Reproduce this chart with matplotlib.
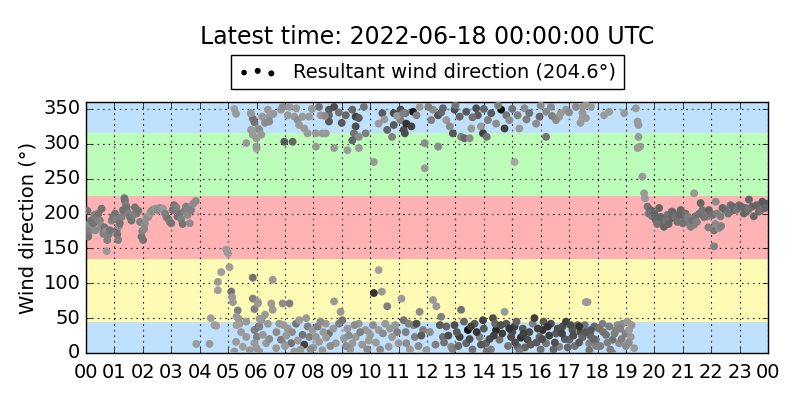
import matplotlib
matplotlib.use("Agg")
import matplotlib.pyplot as plt
import numpy as np

# (hour, direction deg, gray shade)
night_early = [
(0.02,180,.5),(0.05,204,.45),(0.06,172,.45),(0.08,167,.45),(0.1,185,.55),(0.14,176,.5),(0.18,190,.45),
(0.22,182,.55),(0.26,186,.45),(0.3,198,.5),(0.33,176,.55),(0.37,195,.45),(0.4,192,.5),(0.44,200,.45),
(0.49,190,.5),(0.52,183,.55),(0.55,207,.45),(0.58,178,.55),(0.61,171,.5),(0.65,180,.45),(0.7,175,.55),
(0.73,146,.6),(0.75,162,.5),(0.8,170,.5),(0.84,176,.45),(0.9,190,.5),(0.96,195,.45),(1.02,200,.45),
(1.05,192,.5),(1.08,176,.45),(1.1,170,.45),(1.13,162,.5),(1.16,182,.55),(1.19,186,.45),(1.25,195,.5),
(1.3,205,.45),(1.35,222,.45),(1.37,218,.45),(1.4,212,.5),(1.43,209,.45),(1.46,202,.45),(1.49,200,.5),
(1.55,195,.45),(1.6,190,.45),(1.65,198,.5),(1.72,209,.45),(1.78,200,.5),(1.84,204,.45),(1.9,188,.5),
(1.95,167,.45),(1.98,175,.5),(2.01,162,.45),(2.05,178,.55),(2.07,186,.55),(2.12,195,.6),(2.19,195,.55),
(2.25,200,.6),(2.3,204,.55),(2.38,206,.55),(2.45,207,.6),(2.52,205,.55),(2.6,208,.55),(2.71,207,.6),
(2.78,200,.5),(2.83,195,.5),(2.9,192,.45),(2.95,188,.5),(3.0,186,.45),(3.05,205,.45),(3.1,212,.45),
(3.18,209,.5),(3.22,196,.45),(3.3,200,.45),(3.35,192,.5),(3.4,185,.45),(3.47,204,.5),(3.52,210,.5),
(3.58,198,.55),(3.65,186,.55),(3.7,205,.5),(3.77,214,.55),(3.86,218,.55)]

morning = [
(3.88,13,.6),(4.35,13,.6),(4.39,50,.62),(4.52,40,.62),(4.58,39,.62),(4.64,102,.6),(4.64,90,.62),
(4.76,116,.62),(4.94,148,.6),(5.0,143,.6),(5.05,123,.62),(5.11,88,.45),(5.14,80,.6),(5.17,73,.6),
(5.22,2,.6),(5.28,16,.6),(5.34,61,.5),(5.3,52,.6),(5.37,49,.6),(5.4,42,.6),(5.3,40,.62),(5.22,350,.62),
(5.28,343,.6),(5.46,30,.6),(5.52,9,.62),(5.64,45,.6),(5.64,301,.6),(5.81,343,.55),(5.87,336,.45),
(5.93,331,.45),(5.81,320,.6),(5.87,313,.6),(5.87,108,.45),(5.87,78,.5),(5.93,63,.5),(5.93,33,.5),
(6.0,293,.65),(6.05,322,.6),(6.0,308,.6),(6.05,73,.6),(6.11,49,.6),(6.08,38,.3),(6.01,23,.5),
(6.0,7,.6),(5.64,23,.6),(5.76,4,.6),(5.93,14,.6),(6.1,38,.5)]

day_north = [
(6.1,320,.55),(6.17,313,.6),(5.8,344,.6),(6.2,339,.6),(6.45,339,.6),(6.45,332,.55),(6.4,349,.6),
(6.0,296,.6),(6.98,303,.35),(7.27,303,.4),(6.86,349,.6),(6.92,353,.55),(7.1,341,.6),(7.33,339,.6),
(7.45,334,.55),(7.5,327,.6),(7.68,322,.6),(7.8,315,.6),(7.62,339,.6),(7.85,339,.6),(7.16,353,.6),
(7.4,351,.6),(8.09,296,.6),(8.09,315,.6),(8.2,353,.45),(8.26,341,.6),(8.55,349,.35),(8.55,341,.4),
(8.55,332,.35),(8.73,353,.3),(8.73,294,.6),(8.32,315,.6),(8.44,315,.6),(9.2,291,.6),(9.49,325,.3),
(9.43,315,.45),(9.6,310,.55),(9.84,315,.5),(9.49,339,.25),(9.6,337,.35),(9.37,349,.4),(9.14,341,.4),
(9.78,353,.45),(9.6,294,.6),(9.37,305,.4),(10.13,274,.6),(10.3,329,.6),(10.6,320,.4),(10.43,344,.35),
(10.83,344,.3),(10.83,327,.35),(11.07,349,.3),(11.24,344,.45),(11.18,320,.3),(11.07,334,.5),
(10.77,310,.5),(10.5,335,.6),(10.95,340,.6),(8.9,345,.45),(9.0,330,.35),(8.4,340,.55),(7.95,350,.6),
(6.6,343,.6),(6.3,330,.55),(11.16,344,.5),(11.51,346,.1),(11.27,329,.2),(11.45,325,.25),(11.22,315,.3),
(11.63,341,.5),(11.74,353,.6),(11.92,301,.55),(11.92,265,.6)]

day_south = [
(6.05,71,.6),(6.17,47,.6),(6.22,26,.6),(6.4,42,.6),(6.52,71,.6),(6.57,105,.6),(6.57,62,.6),(6.8,42,.6),
(6.86,19,.5),(6.69,7,.6),(6.92,71,.55),(6.34,14,.6),(6.1,2,.6),(7.16,71,.5),(7.1,35,.6),(7.22,14,.45),
(7.39,42,.45),(7.5,47,.6),(7.62,26,.45),(7.68,12,.25),(7.8,38,.5),(7.86,23,.5),(7.97,33,.6),(7.33,2,.6),
(8.15,38,.5),(8.2,16,.6),(8.44,42,.6),(8.55,28,.45),(8.73,74,.6),(8.79,14,.6),(8.96,59,.6),(8.9,42,.5),
(8.32,4,.6),(8.09,23,.6),(9.02,47,.45),(9.2,35,.6),(9.08,21,.6),(9.37,14,.6),(9.49,23,.6),(9.72,12,.6),
(9.84,33,.6),(10.0,26,.6),(9.6,42,.6),(10.13,86,.2),(10.3,119,.62),(10.41,88,.6),(10.6,67,.5),
(10.3,33,.6),(10.53,42,.6),(10.77,23,.6),(10.88,40,.6),(11.18,47,.45),(11.35,42,.5),(11.53,40,.5),
(10.65,9,.6),(11.0,14,.6),(6.7,30,.55),(7.0,10,.6),(7.25,30,.55),(7.55,5,.6),(8.0,8,.6),(8.6,10,.55),
(9.3,5,.6),(9.9,5,.55),(10.2,15,.6),(10.45,28,.55),(11.1,78,.6),(11.27,14,.55),(11.57,23,.5),
(11.74,59,.55),(11.86,33,.5),(11.98,4,.6),(11.63,42,.3),(11.8,25,.35),(6.3,55,.6),(7.05,25,.6),
(7.9,5,.55),(8.35,30,.6),(9.15,10,.55),(9.65,30,.5),(10.1,40,.55),(10.95,30,.5),(11.4,5,.6),
(6.45,20,.55),(6.95,40,.6),(7.45,18,.6),(8.25,45,.55),(8.7,35,.6),(9.45,40,.55),(9.95,18,.6),
(10.35,5,.55),(10.7,35,.6),(11.25,30,.5),(11.7,10,.55),(8.45,22,.6),(7.75,50,.6),(9.25,25,.55)]

afternoon_north = [
(12.15,334,.5),(12.21,349,.55),(12.39,341,.3),(12.39,296,.55),(12.56,351,.4),(12.68,334,.6),
(12.8,325,.55),(12.97,349,.3),(12.91,315,.35),(13.2,310,.5),(13.32,308,.4),(13.5,308,.55),
(13.15,339,.4),(13.38,346,.35),(13.56,322,.6),(13.79,341,.35),(13.73,351,.3),(13.9,325,.6),
(13.97,315,.25),(14.1,310,.45),(14.14,334,.5),(14.26,344,.35),(14.43,329,.55),(14.61,349,.05),
(14.73,322,.25),(14.79,341,.45),(14.9,334,.55),(15.08,274,.65),(15.19,341,.5),(15.25,322,.6),
(15.43,351,.55),(15.6,344,.45),(15.84,329,.55),(15.96,339,.4),(16.19,310,.45),(16.19,346,.55),
(16.36,353,.55),(16.65,339,.6),(16.71,344,.6),(16.54,334,.55),(16.89,349,.6),(17.24,353,.55),
(17.47,344,.6),(17.59,337,.6),(17.77,353,.6),(12.05,353,.5),(12.5,345,.4),(13.0,355,.45),
(13.6,338,.45),(14.0,350,.4),(14.5,355,.5),(15.0,350,.45),(15.5,335,.5),(16.0,355,.55),
(16.4,340,.5),(17.0,345,.55),(17.4,330,.6),(17.47,353,.6),(17.59,356,.6),(17.47,337,.6),
(18.23,341,.6),(18.41,346,.6),(18.94,344,.6)]

afternoon_south = [
(12.21,76,.6),(12.33,67,.6),(12.5,52,.5),(12.68,38,.4),(12.56,23,.45),(12.85,9,.55),(12.97,40,.3),
(13.2,62,.45),(13.15,23,.25),(13.38,14,.4),(13.44,33,.05),(13.67,42,.35),(13.85,23,.5),(13.97,47,.25),
(14.08,14,.4),(14.32,50,.3),(14.43,33,.15),(14.55,19,.45),(14.73,59,.6),(14.79,42,.35),(14.96,23,.3),
(15.08,38,.25),(15.19,9,.4),(15.37,35,.35),(15.54,19,.3),(15.72,42,.5),(15.78,50,.25),(15.96,23,.4),
(16.07,33,.2),(16.19,14,.45),(16.36,42,.3),(16.54,28,.35),(16.65,9,.5),(16.77,38,.3),(16.89,45,.25),
(17.01,19,.4),(17.12,33,.35),(17.3,40,.4),(17.47,23,.45),(17.59,73,.6),(17.71,14,.5),(17.89,38,.4),
(12.1,30,.55),(12.3,12,.5),(12.45,40,.35),(12.75,25,.3),(12.9,5,.5),(13.05,30,.35),(13.3,45,.4),
(13.5,20,.3),(13.6,5,.45),(13.75,30,.2),(14.0,35,.35),(14.2,20,.3),(14.25,5,.5),(14.4,42,.4),
(14.65,28,.25),(14.85,10,.45),(15.0,30,.3),(15.15,45,.4),(15.3,22,.2),(15.45,8,.4),(15.6,30,.3),
(15.85,15,.35),(15.9,35,.25),(16.1,45,.35),(16.3,25,.25),(16.45,5,.4),(16.6,35,.3),(16.85,20,.35),
(17.05,40,.3),(17.2,10,.45),(17.4,30,.3),(17.55,40,.45),(17.75,25,.4),(17.95,10,.5),(17.36,38,.2),
(17.47,23,.4),(17.65,73,.6),(17.77,33,.35),(17.94,19,.45),(18.18,42,.5),(18.3,26,.45),(18.41,38,.5),
(18.53,19,.45),(18.64,33,.5),(18.76,14,.55),(18.88,42,.55),(18.99,28,.5),(19.05,45,.6),(19.11,33,.6),
(19.17,23,.6),(19.29,7,.6),(18.53,0,.55),(17.71,4,.45),(18.1,10,.5),(18.2,30,.45),(18.45,5,.5),
(18.7,40,.55),(18.85,20,.5),(19.0,10,.55),(19.2,40,.6),(16.0,5,.45),(15.25,2,.5),(14.1,2,.45),
(12.6,15,.45),(13.1,10,.4),(13.55,38,.25),(13.9,12,.35),(14.35,25,.25),(14.6,40,.3),(14.9,35,.2),
(15.1,15,.3),(15.4,28,.25),(15.65,12,.35),(16.05,20,.3),(16.25,38,.2),(16.5,15,.3),(16.75,28,.25),
(16.95,8,.4),(17.15,25,.3),(17.35,15,.35),(17.6,30,.35),(17.85,20,.4),(18.05,35,.45),(18.35,15,.5),
(18.6,28,.5),(18.8,35,.5),(19.1,15,.55)]

evening_turn = [
(19.35,351,.6),(19.41,332,.6),(19.44,327,.6),(19.44,310,.6),(19.41,294,.6),(19.5,296,.6),
(19.58,253,.6),(19.64,229,.6),(19.67,222,.6),(21.4,229,.6)]

night_late = [
(19.76,210,.45),(19.87,205,.4),(19.93,196,.45),(20.05,191,.4),(20.17,208,.4),(20.28,186,.4),
(20.34,181,.4),(20.46,198,.45),(20.58,193,.4),(20.69,200,.45),(20.81,188,.45),(20.93,205,.4),
(21.05,193,.45),(21.16,188,.5),(21.28,181,.5),(21.4,184,.5),(21.45,196,.45),(21.63,215,.4),
(21.69,205,.45),(21.86,196,.5),(21.98,200,.45),(22.1,176,.45),(22.1,153,.5),(22.16,217,.55),
(22.27,179,.55),(22.33,196,.5),(22.5,205,.45),(22.68,212,.45),(22.8,205,.4),(22.98,212,.45),
(23.21,208,.45),(23.33,220,.4),(23.44,210,.4),(23.5,196,.4),(23.68,203,.4),(23.8,217,.35),
(23.85,210,.35),(23.95,214,.35),(19.8,200,.45),(20.0,200,.4),(20.1,185,.45),(20.22,195,.4),
(20.4,190,.45),(20.5,185,.4),(20.62,203,.4),(20.75,195,.45),(20.88,198,.4),(21.0,186,.45),
(21.1,200,.45),(21.2,195,.5),(21.32,190,.45),(21.5,188,.5),(21.58,200,.45),(21.75,195,.45),
(21.92,205,.4),(22.05,198,.45),(22.2,200,.5),(22.4,208,.4),(22.6,200,.45),(22.75,210,.4),
(22.9,206,.45),(23.05,210,.4),(23.15,200,.4),(23.3,205,.45),(23.6,212,.4),(23.75,205,.45),
(23.9,208,.4),(22.15,185,.55),(22.35,182,.5),(21.9,180,.5)]

bands = [(0, 45, '#bfe1fe'), (45, 135, '#fffab4'), (135, 225, '#ffb2b4'),
         (225, 315, '#bbfdb9'), (315, 360, '#bfe1fe')]
hour_ticks = list(range(0, 25))
hour_labels = ['%02d' % (h % 24) for h in hour_ticks]
y_ticks = [0, 50, 100, 150, 200, 250, 300, 350]

plt.style.use('classic')
fig = plt.figure(figsize=(8, 4), dpi=100, facecolor='white')
ax = fig.add_axes([0.1075, 0.1175, 0.8525, 0.6275])

for lo, hi, col in bands:
    ax.axhspan(lo, hi, color=col, zorder=0, linewidth=0)

pts = night_early + morning + day_north + day_south + afternoon_north + afternoon_south + evening_turn + night_late
t = np.array([p[0] for p in pts])
d = np.array([p[1] for p in pts])
g = np.array([p[2] for p in pts])
colors = np.column_stack([g, g, g])
sc = ax.scatter(t, d, c=colors, s=32, edgecolors='none', zorder=3,
                label='Resultant wind direction (204.6°)')

ax.set_xlim(0, 24)
ax.set_ylim(0, 360)
ax.set_xticks(hour_ticks)
ax.set_xticklabels(hour_labels)
ax.set_yticks(y_ticks)
ax.tick_params(labelsize=14)
ax.tick_params(axis='x', pad=7)
ax.grid(True, color='black', linestyle=':', linewidth=0.8, zorder=2)
ax.set_ylabel('Wind direction (°)', fontsize=14, labelpad=4)
ax.set_title('Latest time: 2022-06-18 00:00:00 UTC', fontsize=17, y=1.205)
leg = ax.legend(loc='lower center', bbox_to_anchor=(0.5, 1.05), fontsize=14,
                scatterpoints=3, borderaxespad=0, fancybox=False)
for h in leg.legend_handles:
    h.set_color('black')
    h.set_sizes([9, 11, 11])
fig.savefig('out.png', dpi=100, facecolor='white')
